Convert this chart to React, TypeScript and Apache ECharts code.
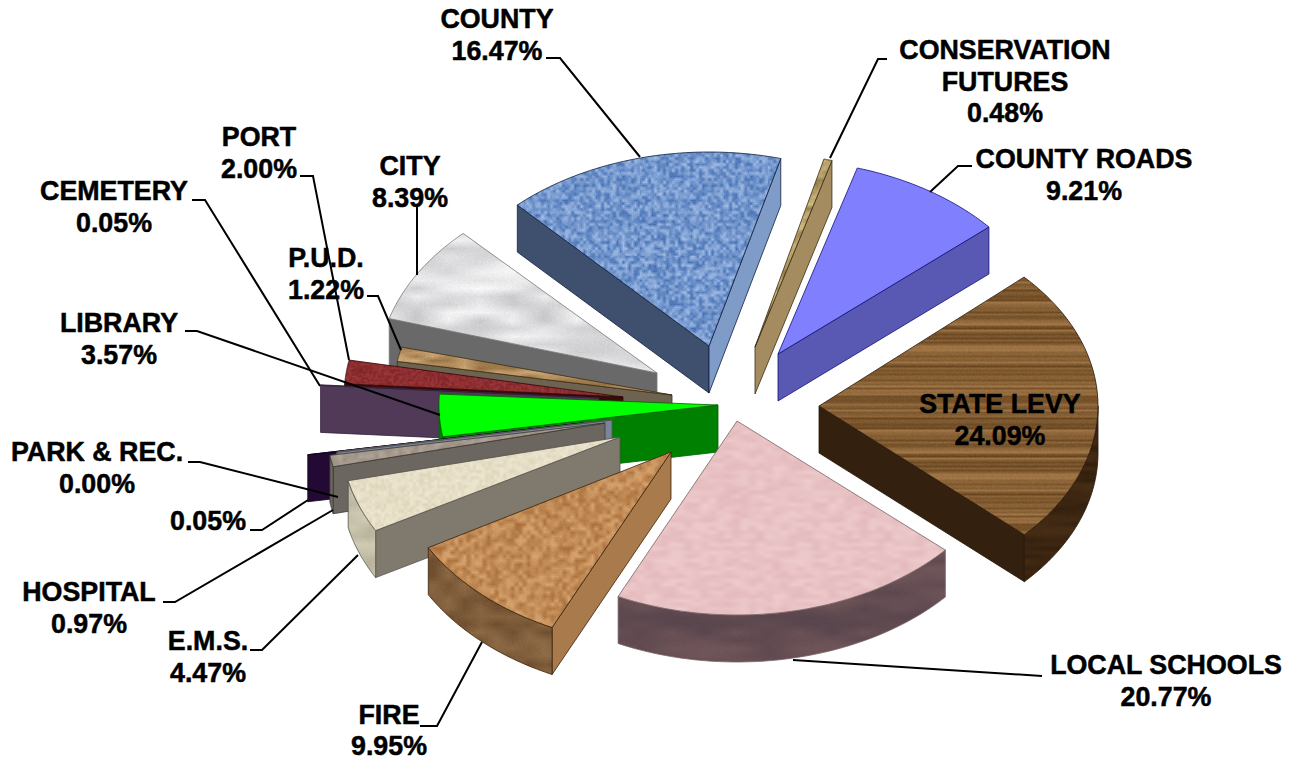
import React, { useEffect, useRef } from "react";
import * as echarts from "echarts";

// ---------- data (pie order, clockwise) ----------
const categories = ["COUNTY", "CONSERVATION\nFUTURES", "COUNTY ROADS", "STATE LEVY", "LOCAL SCHOOLS", "FIRE", "E.M.S.", "HOSPITAL", "", "PARK & REC.", "LIBRARY", "CEMETERY", "PORT", "P.U.D.", "CITY"];
const values = [16.47, 0.48, 9.21, 24.09, 20.77, 9.95, 4.47, 0.97, 0.05, 0.0, 3.57, 0.05, 2.0, 1.22, 8.39];

// ---------- layout and style ----------
const W = 1299, H = 761;
const pie = { cx: 700, cy: 400, rx: 279, ry: 194, depth: 47, startAngle: -44 };
const explodeDx = [9, 55, 78, 119, 37, -29, -80, -95, -88, -117, 18, -101, -77, -28, -43];
const explodeDy = [-54, -53, -46, 6, 21, 52, 37, 23, 20, 23, 5, -2, -3, -5, -27];
const spin = [0.6, 0, 0.5, -1.3, -2.2, -2.2, -1.5, -1.5, -1.5, -1.5, -1.5, -1, -1, -2, 0];
const ryScale = [1, 1, 1, 0.98, 1, 1, 1, 1, 1, 1, 1, 1, 1, 1, 1];
const drawOrder = [14, 13, 12, 11, 10, 9, 8, 7, 6, 5, 4, 0, 1, 2, 3];

// [light, dark, cellX, cellY]
const topTex: [string, string, number, number][] = [
  ["#a9c3ea", "#3f6bb0", 3, 3], ["#d9c58c", "#8a7040", 8, 4], ["#8080ff", "#8080ff", 64, 64], ["#a97d4c", "#61401c", 128, 2],
  ["#efcdcf", "#e2b7ba", 8, 4], ["#dba873", "#a66c38", 4, 4], ["#f0e9d4", "#dcd3b8", 3, 3], ["#b5a89c", "#94877c", 4, 4],
  ["#8d97aa", "#8d97aa", 64, 64], ["#220a35", "#220a35", 64, 64], ["#00ff00", "#00ff00", 64, 64], ["#503a58", "#503a58", 64, 64],
  ["#a03a3c", "#7c2226", 2, 2], ["#d4ae7c", "#8f6a3c", 16, 4], ["#ffffff", "#c2c2c6", 32, 8],
];
const startFace = ["#3f506e", "#9a8258", "#5959b3", "#33200f", "#5f4c50", "#a87a4c", "#807a6e", "#6b6660", "#7a8599", "#220a35", "#008000", "#503a58", "#3d0a0a", "#6e6350", "#696969"];
const endFace = ["#7f9cc8", "#a58c60", "#5959b3", "#33200f", "#5f4c50", "#a87a4c", "#807a6e", "#6b6660", "#7a8599", "#220a35", "#008000", "#503a58", "#3d0a0a", "#6e6350", "#696969"];
const rimTex: [string, string, number, number][] = [
  ["#3f506e", "#3f506e", 64, 64], ["#a58c60", "#a58c60", 64, 64], ["#5959b3", "#5959b3", 64, 64], ["#4a2f16", "#2e1c0c", 32, 4],
  ["#75595c", "#54424a", 32, 8], ["#94704a", "#66472a", 16, 8], ["#d8d3bd", "#b4ae98", 16, 8], ["#6b6660", "#6b6660", 64, 64],
  ["#7a8599", "#7a8599", 64, 64], ["#220a35", "#220a35", 64, 64], ["#008000", "#008000", 64, 64], ["#503a58", "#503a58", 64, 64],
  ["#3d0a0a", "#3d0a0a", 64, 64], ["#6e6350", "#6e6350", 64, 64], ["#696969", "#696969", 64, 64],
];
const edgeColor = ["#10203f", "#3a2c10", "#10107a", "#2a1808", "#7a6264", "#3a2208", "#55524a", "#3c3832", "#555", "#12051d", "#006000", "#32223a", "#300808", "#3a2c14", "#777"];

const labelFont = 26.8;
const labelLine = 31.5;
// label text centre x, first-line centre y
const labelX = [497, 1005, 1084, 1000, 1166, 389, 208, 89, 208, 97, 119, 114, 259, 326, 410];
const labelY = [19, 50, 159, 404, 665, 714.5, 641, 592, 521, 452, 323, 191, 137, 258, 166];
const leaders: number[][][] = [
  [[546, 58], [560, 58], [640, 157]],
  [[887, 59], [878, 59], [830, 158]],
  [[972, 166], [958, 166], [930, 192]],
  [],
  [[1042, 676], [793, 660]],
  [[420, 726], [437, 726], [482, 642]],
  [[250, 650], [262, 650], [358, 555]],
  [[163, 602], [175, 602], [333, 510]],
  [[250, 530], [262, 530], [308, 500]],
  [[188, 462], [200, 462], [338, 497]],
  [[185, 331], [197, 331], [440, 415]],
  [[192, 200], [205, 200], [320, 386]],
  [[300, 176], [313, 176], [349, 360]],
  [[367, 296], [378, 296], [401, 350]],
  [[417, 205], [417, 275]],
];

// ---------- geometry from values ----------
const total = values.reduce((a, b) => a + b, 0);
const angles: [number, number][] = [];
{
  let run = pie.startAngle;
  values.forEach((v, i) => {
    const sweep = (v / total) * 360;
    angles.push([run + spin[i], run + sweep + spin[i]]);
    run += sweep;
  });
}
const rad = (d: number) => (d * Math.PI) / 180;

// ---------- surface textures (seeded value noise, purely decorative) ----------
function hexRgb(h: string) {
  return [parseInt(h.slice(1, 3), 16), parseInt(h.slice(3, 5), 16), parseInt(h.slice(5, 7), 16)];
}
function makeTexture(light: string, dark: string, cx: number, cy: number, seedBase: number): any {
  if (light === dark) return light;
  const size = 128;
  const canvas = document.createElement("canvas");
  canvas.width = canvas.height = size;
  const ctx = canvas.getContext("2d")!;
  const img = ctx.createImageData(size, size);
  let seed = seedBase * 7919 + 17;
  const next = () => ((seed = (seed * 1664525 + 1013904223) >>> 0) / 4294967296);
  const gw = Math.ceil(size / cx), gh = Math.ceil(size / cy);
  const grid: number[] = [];
  for (let i = 0; i < gw * gh; i++) grid.push(next());
  const fine: number[] = [];
  for (let i = 0; i < size * size; i++) fine.push(next());
  const a = hexRgb(light), b = hexRgb(dark);
  for (let y = 0; y < size; y++)
    for (let x = 0; x < size; x++) {
      const fx = x / cx, fy = y / cy;
      const x0 = Math.floor(fx), y0 = Math.floor(fy);
      const tx = fx - x0, ty = fy - y0;
      const g = (i: number, j: number) => grid[((j % gh) * gw) + (i % gw)];
      const v0 = g(x0, y0) * (1 - tx) + g(x0 + 1, y0) * tx;
      const v1 = g(x0, y0 + 1) * (1 - tx) + g(x0 + 1, y0 + 1) * tx;
      const v = (v0 * (1 - ty) + v1 * ty) * 0.85 + fine[y * size + x] * 0.15;
      const k = y * size + x;
      for (let c = 0; c < 3; c++) img.data[k * 4 + c] = a[c] * v + b[c] * (1 - v);
      img.data[k * 4 + 3] = 255;
    }
  ctx.putImageData(img, 0, 0);
  return { image: canvas, repeat: "repeat" };
}

export default function App() {
  const ref = useRef<HTMLDivElement>(null);
  useEffect(() => {
    const chart = echarts.init(ref.current!, undefined, { renderer: "svg" });
    const topFill = topTex.map((t, i) => makeTexture(t[0], t[1], t[2], t[3], i + 1));
    const rimFill = rimTex.map((t, i) => makeTexture(t[0], t[1], t[2], t[3], i + 41));

    const renderItem = (params: any) => {
      const i = drawOrder[params.dataIndex];
      const [a0, a1] = angles[i];
      const ax = pie.cx + explodeDx[i], ay = pie.cy + explodeDy[i];
      const ry = pie.ry * ryScale[i];
      const rim = (a: number, dz = 0) => [ax + pie.rx * Math.sin(rad(a)), ay - ry * Math.cos(rad(a)) + dz];
      const d = pie.depth;
      const edge = { stroke: edgeColor[i], lineWidth: 0.8 };
      const children: any[] = [];
      const quad = (a: number, fill: string) => ({
        type: "polygon",
        shape: { points: [[ax, ay], rim(a), rim(a, d), [ax, ay + d]] },
        style: { fill, ...edge },
      });
      if (Math.sin(rad(a0)) < 0) children.push(quad(a0, startFace[i]));
      if (Math.sin(rad(a1)) > 0) children.push(quad(a1, endFace[i]));
      const from = Math.max(a0, 90), to = Math.min(a1, 270);
      if (to > from) {
        const up: number[][] = [], down: number[][] = [];
        for (let s = 0; s <= 48; s++) {
          const a = from + ((to - from) * s) / 48;
          up.push(rim(a));
          down.unshift(rim(a, d));
        }
        children.push({ type: "polygon", shape: { points: up.concat(down) }, style: { fill: rimFill[i], ...edge } });
      }
      const pts: number[][] = [[ax, ay]];
      for (let s = 0; s <= 48; s++) pts.push(rim(a0 + ((a1 - a0) * s) / 48));
      children.push({ type: "polygon", shape: { points: pts }, style: { fill: topFill[i], ...edge } });
      return { type: "group", children };
    };

    const graphics: any[] = [];
    categories.forEach((name, i) => {
      const text = (name ? name + "\n" : "") + values[i].toFixed(2) + "%";
      graphics.push({
        type: "text",
        z: 20,
        x: labelX[i],
        y: labelY[i] - labelLine / 2,
        style: {
          text,
          fill: "#000",
          stroke: "#000",
          lineWidth: 0.5,
          font: `bold ${labelFont}px "Liberation Sans", Arial, sans-serif`,
          lineHeight: labelLine,
          align: "center",
          verticalAlign: "top",
        },
      });
      if (leaders[i].length)
        graphics.push({
          type: "polyline",
          z: 19,
          shape: { points: leaders[i] },
          style: { stroke: "#000", lineWidth: 2, fill: "none" },
        });
    });

    chart.setOption({
      animation: false,
      backgroundColor: "#fff",
      series: [
        {
          type: "custom",
          coordinateSystem: "none",
          renderItem,
          clip: false,
          silent: true,
          data: drawOrder.map((i) => ({ name: categories[i], value: values[i] })),
        },
      ],
      graphic: { elements: graphics },
    });
    return () => chart.dispose();
  }, []);
  return <div ref={ref} style={{ position: "absolute", left: 0, top: 0, width: W, height: H }} />;
}
